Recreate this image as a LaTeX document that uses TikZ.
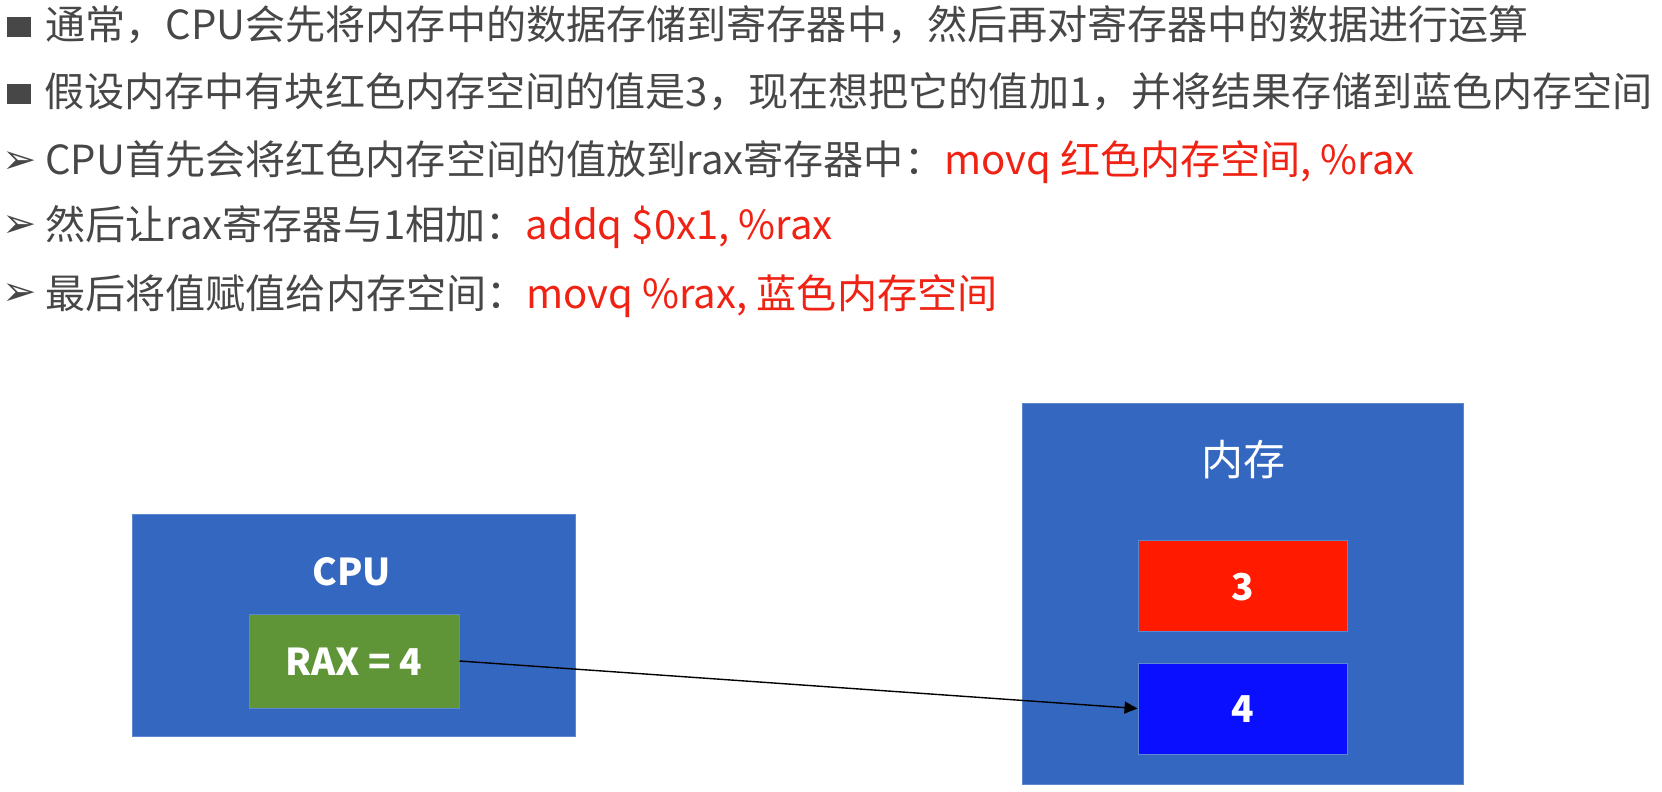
\documentclass[tikz,border=0pt]{standalone}
\usepackage{fontspec}
\setmainfont{Noto Sans CJK SC}
\newfontfamily\dejavu{DejaVu Sans}
\usetikzlibrary{arrows.meta}
\definecolor{txtgray}{HTML}{474747}
\definecolor{codered}{HTML}{F02214}
\definecolor{boxblue}{HTML}{3468C0}
\definecolor{boxedge}{HTML}{5C88D0}
\definecolor{regreen}{HTML}{5F9537}
\definecolor{memred}{HTML}{FF1A00}
\definecolor{memblue}{HTML}{0A10FF}
\begin{document}
\begin{tikzpicture}[x=0.5pt,y=-0.5pt,
  txtline/.style={anchor=base west, inner sep=0pt, text=txtgray,
    font=\fontsize{20.05pt}{24pt}\selectfont},
  sqbullet/.style={fill=txtgray, inner sep=0pt, minimum width=12pt, minimum height=10pt},
  arbullet/.style={inner sep=0pt, text=txtgray, font=\dejavu\fontsize{20.5pt}{24pt}\selectfont},
  bigbox/.style={fill=boxblue, draw=boxedge, line width=0.5pt, inner sep=0pt},
  smallbox/.style={draw=boxedge, line width=0.5pt, inner sep=0pt, minimum width=104.5pt, minimum height=45.5pt},
  boxlabel/.style={text=white, inner sep=0pt, font=\bfseries\fontsize{18.5pt}{22pt}\selectfont},
  conn/.style={black, line width=0.7pt, -{Triangle[length=6.5pt,width=6pt]}}
]
\useasboundingbox (0,0) rectangle (1662,792);

% bullets
\node[sqbullet] (b1) at (19,27.5) {};
\node[sqbullet] (b2) at (19,94) {};
\node[arbullet] (b3) at (20,163) {➢};
\node[arbullet] (b4) at (20,227) {➢};
\node[arbullet] (b5) at (20,295) {➢};

% text lines
\node[txtline] (l1) at (45,40) {通常，CPU会先将内存中的数据存储到寄存器中，然后再对寄存器中的数据进行运算};
\node[txtline] (l2) at (44,107) {假设内存中有块红色内存空间的值是3，现在想把它的值加1，并将结果存储到蓝色内存空间};
\node[txtline] (l3) at (45,175) {CPU首先会将红色内存空间的值放到rax寄存器中：\textcolor{codered}{movq 红色内存空间, \%rax}};
\node[txtline] (l4) at (45,240) {然后让rax寄存器与1相加：\textcolor{codered}{addq \$0x1, \%rax}};
\node[txtline] (l5) at (45,308) {最后将值赋值给内存空间：\textcolor{codered}{movq \%rax, 蓝色内存空间}};

% CPU
\node[bigbox, minimum width=221.5pt, minimum height=111pt] (cpu) at (353.5,625) {};
\node[boxlabel] (cpulabel) at (352,572) {CPU};
\node[smallbox, fill=regreen, minimum width=105pt, minimum height=47pt] (rax) at (354,661) {};
\node[boxlabel] (raxlabel) at (354,662) {RAX = 4};

% Memory
\node[bigbox, minimum width=220.5pt, minimum height=190.5pt] (mem) at (1242.5,593.5) {};
\node[text=white, inner sep=0pt, font=\fontsize{21pt}{25pt}\selectfont] (memlabel) at (1243,460) {内存};
\node[smallbox, fill=memred] (red) at (1242.5,585.5) {};
\node[boxlabel] (redlabel) at (1242.5,587) {3};
\node[smallbox, fill=memblue] (blue) at (1242.5,708.5) {};
\node[boxlabel] (bluelabel) at (1242.5,709) {4};

\draw[conn] (rax.east) -- (blue.west);
\end{tikzpicture}
\end{document}
